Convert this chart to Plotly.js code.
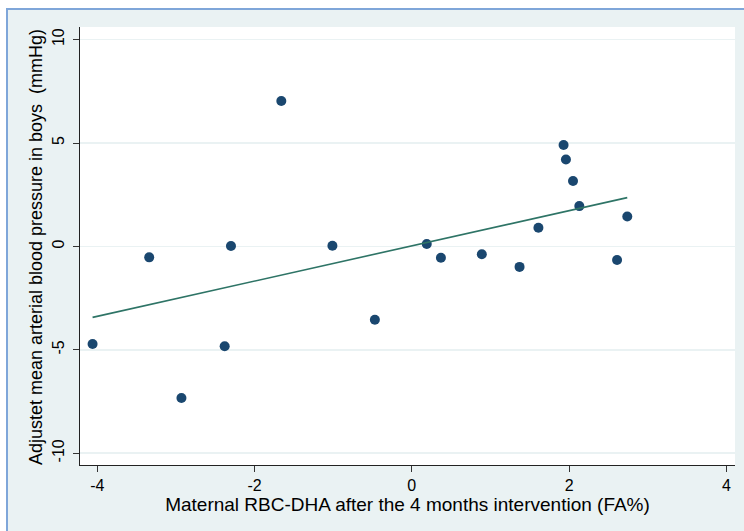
<!DOCTYPE html>
<html>
<head>
<meta charset="utf-8">
<script src="https://cdn.plot.ly/plotly-3.0.1.min.js"></script>
<style>
  html, body { margin: 0; padding: 0; background: #ffffff; width: 744px; height: 531px; overflow: hidden; }
  #frame { position: absolute; left: 6px; top: 8px; width: 738px; height: 523px;
           border-left: 2px solid #7fa6d9; border-top: 2px solid #7fa6d9; background: #eaf2f3; }
  #chart { position: absolute; left: 0; top: 0; width: 736px; height: 521px; }
</style>
</head>
<body>
<div id="frame"><div id="chart"></div></div>
<script>
// Maternal RBC-DHA after intervention (FA%)
const dhaX = [-4.06, -3.34, -2.93, -2.38, -2.30, -1.66, -1.01, -0.47, 0.19, 0.37,
              0.89, 1.37, 1.61, 1.93, 1.96, 2.05, 2.13, 2.61, 2.74];
// Adjusted mean arterial blood pressure in boys (mmHg)
const mapY = [-4.72, -0.53, -7.33, -4.83, 0.02, 7.03, 0.03, -3.55, 0.12, -0.55,
              -0.38, -0.99, 0.90, 4.90, 4.20, 3.16, 1.95, -0.66, 1.45];
// Fitted regression line end points
const fitX = [-4.06, 2.74];
const fitY = [-3.43, 2.36];

const xTicks = [-4, -2, 0, 2, 4];
const yTicks = [-10, -5, 0, 5, 10];

const xTitle = 'Maternal RBC-DHA after the 4 months intervention (FA%)';
const yTitle = 'Adjustet mean arterial blood pressure in boys  (mmHg)';

const traces = [
  {
    x: dhaX, y: mapY, type: 'scatter', mode: 'markers',
    marker: { color: '#1a476f', size: 10, line: { width: 0 } },
    hoverinfo: 'x+y', showlegend: false
  },
  {
    x: fitX, y: fitY, type: 'scatter', mode: 'lines',
    line: { color: '#2e7466', width: 1.6 },
    hoverinfo: 'skip', showlegend: false
  }
];

const fam = 'Liberation Sans, Arial, Helvetica, sans-serif';
const tickFont = { family: fam, size: 16, color: '#000' };

const layout = {
  width: 736, height: 521,
  margin: { l: 72, r: 9, t: 17, b: 66, pad: 0 },
  paper_bgcolor: 'rgba(0,0,0,0)',
  plot_bgcolor: '#ffffff',
  showlegend: false,
  xaxis: {
    range: [-4.22, 4.11],
    tickmode: 'array', tickvals: xTicks, ticktext: xTicks.map(String),
    ticks: 'outside', ticklen: 6, tickwidth: 1, tickcolor: '#333',
    showline: true, linecolor: '#222', linewidth: 1,
    showgrid: false, zeroline: false,
    tickfont: tickFont,
    title: { text: xTitle, font: { family: fam, size: 19, color: '#000' }, standoff: 2 }
  },
  yaxis: {
    range: [-10.57, 10.61],
    tickmode: 'array', tickvals: yTicks, ticktext: yTicks.map(String),
    ticks: 'outside', ticklen: 6, tickwidth: 1, tickcolor: '#333',
    tickangle: -90, ticklabelstandoff: 3,
    showline: true, linecolor: '#222', linewidth: 1,
    showgrid: true, gridcolor: '#eaf2f3', gridwidth: 1.5,
    zeroline: false,
    tickfont: tickFont
  },
  annotations: [{
    text: yTitle, textangle: -90, showarrow: false,
    xref: 'paper', yref: 'paper', x: -0.066, y: 0.497,
    xanchor: 'center', yanchor: 'middle',
    font: { family: fam, size: 18, color: '#000' }
  }]
};

Plotly.newPlot('chart', traces, layout, { displayModeBar: false, staticPlot: true });
</script>
</body>
</html>
